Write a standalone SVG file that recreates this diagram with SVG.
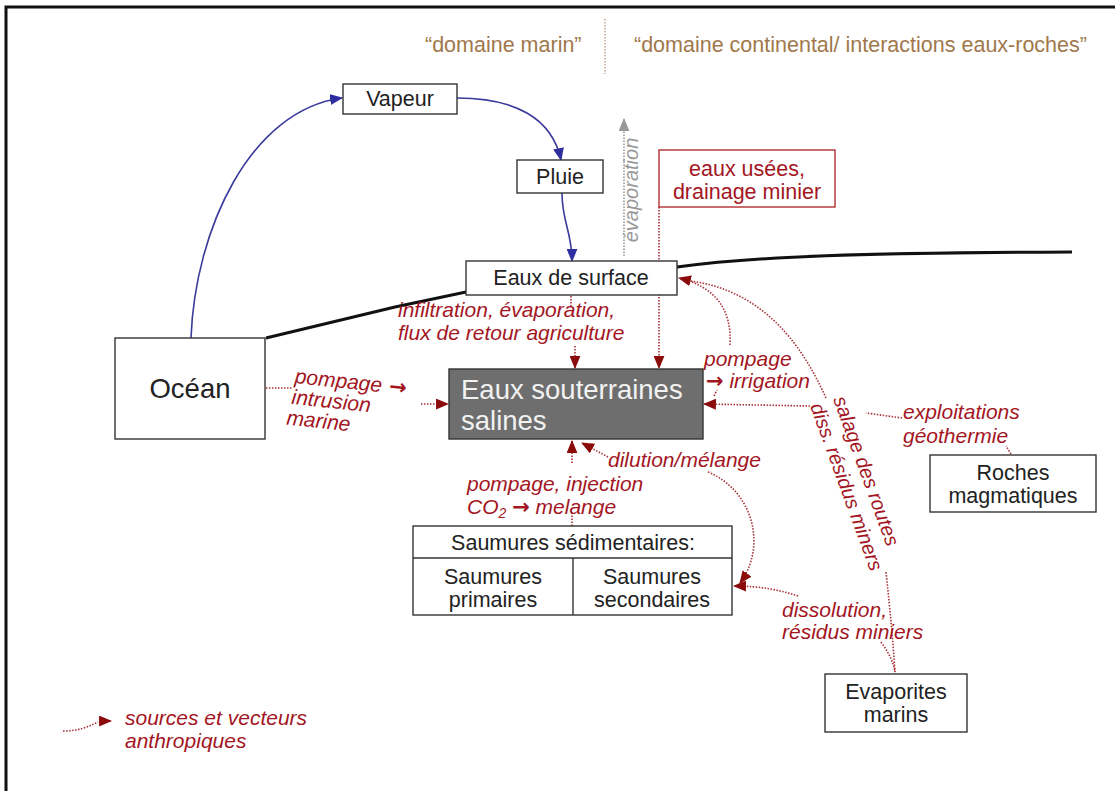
<svg xmlns="http://www.w3.org/2000/svg" width="1115" height="791" viewBox="0 0 1115 791">
<defs>
<style>
.box{fill:#fff;stroke:#333;stroke-width:1.4}
.t{font-family:"Liberation Sans",Arial,sans-serif;font-size:21.5px;fill:#222}
.big{font-family:"Liberation Sans",Arial,sans-serif;font-size:27.5px;fill:#222}
.w{fill:#f2f2f2}
.r{font-family:"Liberation Sans",Arial,sans-serif;font-size:21px;font-style:italic;fill:#a3161f}
.rr{font-family:"Liberation Sans",Arial,sans-serif;font-size:20px;font-style:italic;fill:#a3161f}
.arw{font-family:"DejaVu Sans",sans-serif;font-style:normal;font-weight:bold}
.dom{font-family:"Liberation Sans",Arial,sans-serif;font-size:21.5px;fill:#a0784c}
.blue{fill:none;stroke:#3a3a9c;stroke-width:1.6}
.red{fill:none;stroke:#a8323a;stroke-width:1.6;stroke-dasharray:1.5 1.5}
.gnd{fill:none;stroke:#111;stroke-width:3}
</style>
<marker id="ab" markerUnits="userSpaceOnUse" viewBox="0 0 12 10" markerWidth="13" markerHeight="11" refX="11" refY="5" orient="auto"><path d="M0,0 L12,5 L0,10 z" fill="#2e2ea0"/></marker>
<marker id="ar" markerUnits="userSpaceOnUse" viewBox="0 0 12 10" markerWidth="13" markerHeight="11" refX="11" refY="5" orient="auto"><path d="M0,0 L12,5 L0,10 z" fill="#8b0a0a"/></marker>
<marker id="ag" markerUnits="userSpaceOnUse" viewBox="0 0 12 10" markerWidth="13" markerHeight="11" refX="11" refY="5" orient="auto"><path d="M0,0 L12,5 L0,10 z" fill="#999"/></marker>
</defs>
<rect x="0" y="0" width="1115" height="791" fill="#fff"/>
<path d="M6,791 L6,7 L1115,7" fill="none" stroke="#111" stroke-width="3"/>

<g id="headers">
<text class="dom" x="425" y="52">“domaine marin”</text>
<line x1="605" y1="19" x2="605" y2="74" stroke="#b89880" stroke-width="1.3" stroke-dasharray="1.5 1.5"/>
<text class="dom" x="634" y="52">“domaine continental/ interactions eaux-roches”</text>
</g>

<g id="ground">
<path class="gnd" d="M266,338 L395,307 L466,292"/>
<path class="gnd" d="M677,267 C760,256 860,253 1072,252"/>
</g>

<g id="connectors">
<path class="blue" d="M191,338 C195,230 250,110 342,98" marker-end="url(#ab)"/>
<path class="blue" d="M457,98 C515,98 552,118 561,160" marker-end="url(#ab)"/>
<path class="blue" d="M562,193 C562,222 572,232 572,261" marker-end="url(#ab)"/>
<path d="M624,256 L624,119" fill="none" stroke="#999" stroke-width="1.6" stroke-dasharray="1.5 1.5" marker-end="url(#ag)"/>
<path class="red" d="M266,388 L292,388"/>
<path class="red" d="M421,404 L448,404" marker-end="url(#ar)"/>
<path class="red" d="M571,296 L571,306"/>
<path class="red" d="M575,346 L575,368" marker-end="url(#ar)"/>
<path class="red" d="M659,207 L659,368" marker-end="url(#ar)"/>
<path class="red" d="M714,396 L717,390"/>
<path class="red" d="M730,345 C732,310 716,287 679,278" marker-end="url(#ar)"/>
<path class="red" d="M826,398 C800,340 760,290 690,281"/>
<path class="red" d="M1011,454 L1006,446"/>
<path class="red" d="M902,418 L866,413"/>
<path class="red" d="M810,406 L704,404" marker-end="url(#ar)"/>
<path class="red" d="M886,572 C890,610 893,640 895,673"/>
<path class="red" d="M881,642 C888,652 893,660 895,672"/>
<path class="red" d="M798,596 C780,590 760,586 734,586" marker-end="url(#ar)"/>
<path class="red" d="M708,472 C752,490 768,545 740,583" marker-end="url(#ar)"/>
<path class="red" d="M608,457 L582,443" marker-end="url(#ar)"/>
<path class="red" d="M572,526 L572,512"/>
<path class="red" d="M572,463 L572,441" marker-end="url(#ar)"/>
<path class="red" d="M63,731 C78,731 88,727 98,722"/>
<path class="red" d="M100,721 L111,721" marker-end="url(#ar)"/>
</g>

<g id="vapeur"><rect class="box" x="343" y="84" width="114" height="30"/><text class="t" x="400" y="106" text-anchor="middle">Vapeur</text></g>
<g id="pluie"><rect class="box" x="517" y="160" width="86" height="33"/><text class="t" x="560" y="184" text-anchor="middle">Pluie</text></g>
<g id="eaux-surface"><rect class="box" x="466" y="261" width="211" height="34"/><text class="t" x="571" y="285" text-anchor="middle">Eaux de surface</text></g>
<g id="ocean"><rect class="box" x="115" y="338" width="150" height="101"/><text class="big" x="190" y="398" text-anchor="middle">Océan</text></g>
<g id="eaux-souterraines"><rect x="449" y="369" width="254" height="70" fill="#6e6e6e" stroke="#333" stroke-width="1.4"/><text class="big w" x="461" y="399">Eaux souterraines</text><text class="big w" x="461" y="430">salines</text></g>
<g id="eaux-usees"><rect x="659" y="150" width="176" height="57" fill="#fff" stroke="#b03034" stroke-width="1.4"/><text class="t" x="747" y="176" text-anchor="middle" style="fill:#a3161f">eaux usées,</text><text class="t" x="747" y="199" text-anchor="middle" style="fill:#a3161f">drainage minier</text></g>
<g id="saumures"><rect class="box" x="413" y="526" width="319" height="89"/><line x1="413" y1="558" x2="732" y2="558" stroke="#333" stroke-width="1.4"/><line x1="573" y1="558" x2="573" y2="615" stroke="#333" stroke-width="1.4"/><text class="t" x="573" y="550" text-anchor="middle">Saumures sédimentaires:</text><text class="t" x="493" y="584" text-anchor="middle">Saumures</text><text class="t" x="493" y="607" text-anchor="middle">primaires</text><text class="t" x="652" y="584" text-anchor="middle">Saumures</text><text class="t" x="652" y="607" text-anchor="middle">secondaires</text></g>
<g id="roches"><rect class="box" x="930" y="455" width="166" height="57"/><text class="t" x="1013" y="480" text-anchor="middle">Roches</text><text class="t" x="1013" y="503" text-anchor="middle">magmatiques</text></g>
<g id="evaporites"><rect class="box" x="825" y="674" width="142" height="58"/><text class="t" x="896" y="699" text-anchor="middle">Evaporites</text><text class="t" x="896" y="722" text-anchor="middle">marins</text></g>

<g id="labels">
<text x="0" y="0" transform="translate(638,190) rotate(-90)" text-anchor="middle" style="font-family:'Liberation Sans',Arial,sans-serif;font-size:20px;font-style:italic;fill:#999">évaporation</text>
<text class="r" x="398" y="317">infiltration, évaporation,</text>
<text class="r" x="398" y="340">flux de retour agriculture</text>
<g transform="rotate(6,293,395)"><text class="r" x="293" y="383">pompage<tspan class="arw"> →</tspan></text><text class="r" x="292" y="404">intrusion</text><text class="r" x="289" y="425">marine</text></g>
<text class="r" x="704" y="366">pompage</text>
<text class="r" x="706" y="388"><tspan class="arw">→</tspan> irrigation</text>
<text class="r" x="608" y="467">dilution/mélange</text>
<text class="r" x="467" y="491">pompage, injection</text>
<text class="r" x="467" y="514">CO<tspan font-size="14" dy="4">2</tspan><tspan dy="-4"> </tspan><tspan class="arw">→</tspan> melange</text>
<text class="r" x="903" y="419">exploitations</text>
<text class="r" x="903" y="443">géothermie</text>
<text class="rr" transform="translate(833,399) rotate(70)">salage des routes</text>
<text class="rr" transform="translate(810,406) rotate(70)">diss. résidus miners</text>
<text class="r" x="782" y="617">dissolution,</text>
<text class="r" x="782" y="639">résidus miniers</text>
<text class="r" x="125" y="725">sources et vecteurs</text>
<text class="r" x="125" y="748">anthropiques</text>
</g>
</svg>
